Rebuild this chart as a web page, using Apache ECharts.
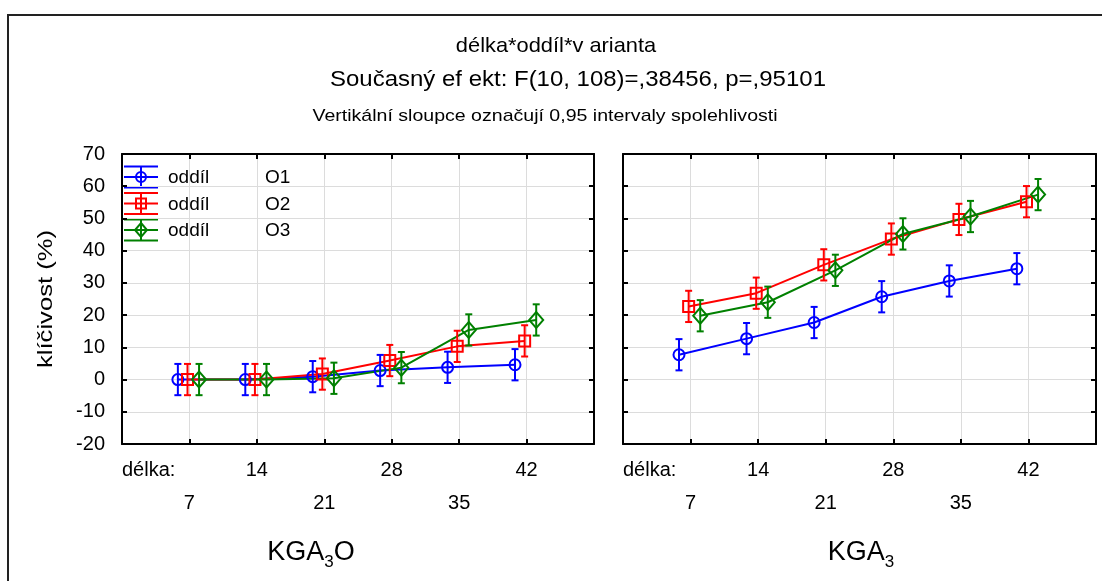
<!DOCTYPE html>
<html>
<head>
<meta charset="utf-8">
<script src="https://cdn.jsdelivr.net/npm/echarts@6/dist/echarts.min.js"></script>
<style>
    html, body { margin: 0; padding: 0; background: #fff; }
    #chart { width: 1102px; height: 581px; }
</style>
</head>
<body>
<div id="chart"></div>
<script>
// délka (days)
const delka = [7, 14, 21, 28, 35, 42];
const oddily = ["O1", "O2", "O3"];

// klíčivost (%) - varianta KGA3O
const kga3o_O1 = [0, 0, 0.9, 2.8, 3.8, 4.6];
const kga3o_O2 = [0, 0, 1.7, 5.9, 10.3, 12.0];
const kga3o_O3 = [0, 0, 0.4, 3.7, 15.4, 18.5];
// klíčivost (%) - varianta KGA3
const kga3_O1 = [7.7, 12.7, 17.7, 25.7, 30.6, 34.4];
const kga3_O2 = [22.7, 26.8, 35.6, 43.6, 49.7, 55.2];
const kga3_O3 = [19.8, 24.0, 33.9, 45.2, 50.6, 57.4];
// half width of the 0,95 interval
const ci95 = [4.85, 4.85, 4.85, 4.85, 4.85, 4.85];

const FONT = "'Liberation Sans', Arial, sans-serif";
const colors = ["#0000ff", "#ff0000", "#008000"];
const symbols = ["circle", "rect", "diamond"];
const symbolSizes = [11, 11, [14, 16]];
const dodge = [-1.2, -0.2, 1.0];

const panels = [
    [kga3o_O1, kga3o_O2, kga3o_O3],
    [kga3_O1, kga3_O2, kga3_O3]
];

const grids = [
    { left: 122, top: 154, width: 472, height: 290 },
    { left: 623, top: 154, width: 473, height: 290 }
];

const xLabel = v => {
    if (v === 0) return "délka:";
    if (v === 49) return "";
    return (v / 7) % 2 === 0 ? "" + v : " \n" + v;
};

let xAxes = [];
let yAxes = [];
grids.forEach((g, gi) => {
    xAxes.push({
        type: "value",
        gridIndex: gi,
        min: 0,
        max: 49,
        interval: 7,
        axisLine: { show: true, onZero: false, lineStyle: { color: "#000", width: 2 } },
        axisTick: { show: true, inside: true, length: 5, lineStyle: { color: "#000", width: 2 } },
        splitLine: { show: true, lineStyle: { color: "#dcdcdc", width: 1 } },
        axisLabel: {
            showMinLabel: true,
            showMaxLabel: true,
            hideOverlap: false,
            alignMinLabel: "left",
            color: "#000",
            fontFamily: FONT,
            fontSize: 20,
            lineHeight: 33,
            margin: 10,
            formatter: xLabel
        }
    });
    xAxes.push({
        type: "value",
        gridIndex: gi,
        position: "top",
        min: 0,
        max: 49,
        interval: 7,
        axisLine: { show: true, onZero: false, lineStyle: { color: "#000", width: 2 } },
        axisTick: { show: true, inside: true, length: 5, lineStyle: { color: "#000", width: 2 } },
        splitLine: { show: false },
        axisLabel: { show: false }
    });
    yAxes.push({
        type: "value",
        gridIndex: gi,
        min: -20,
        max: 70,
        interval: 10,
        axisLine: { show: true, onZero: false, lineStyle: { color: "#000", width: 2 } },
        axisTick: { show: true, inside: true, length: 5, lineStyle: { color: "#000", width: 2 } },
        splitLine: { show: true, lineStyle: { color: "#dcdcdc", width: 1 } },
        axisLabel: { show: gi === 0, color: "#000", fontFamily: FONT, fontSize: 20, margin: 17 }
    });
    yAxes.push({
        type: "value",
        gridIndex: gi,
        position: "right",
        min: -20,
        max: 70,
        interval: 10,
        axisLine: { show: true, onZero: false, lineStyle: { color: "#000", width: 2 } },
        axisTick: { show: true, inside: true, length: 5, lineStyle: { color: "#000", width: 2 } },
        splitLine: { show: false },
        axisLabel: { show: false }
    });
});

const errRenderer = color => (params, api) => {
    const x = api.value(0);
    const lo = api.coord([x, api.value(1)]);
    const hi = api.coord([x, api.value(2)]);
    const cap = 3.5;
    const st = { stroke: color, lineWidth: 2 };
    return {
        type: "group",
        children: [
            { type: "line", shape: { x1: lo[0], y1: lo[1], x2: hi[0], y2: hi[1] }, style: st },
            { type: "line", shape: { x1: lo[0] - cap, y1: lo[1], x2: lo[0] + cap, y2: lo[1] }, style: st },
            { type: "line", shape: { x1: hi[0] - cap, y1: hi[1], x2: hi[0] + cap, y2: hi[1] }, style: st }
        ]
    };
};

let series = [];
panels.forEach((panel, gi) => {
    panel.forEach((vals, s) => {
        series.push({
            name: oddily[s],
            type: "custom",
            xAxisIndex: gi * 2,
            yAxisIndex: gi * 2,
            renderItem: errRenderer(colors[s]),
            data: vals.map((v, i) => [delka[i] + dodge[s], v - ci95[i], v + ci95[i]]),
            z: 4,
            silent: true
        });
        series.push({
            name: oddily[s],
            type: "line",
            xAxisIndex: gi * 2,
            yAxisIndex: gi * 2,
            data: vals.map((v, i) => [delka[i] + dodge[s], v]),
            symbol: symbols[s],
            symbolSize: symbolSizes[s],
            showAllSymbol: true,
            lineStyle: { color: colors[s], width: 2 },
            itemStyle: { color: "rgba(0,0,0,0)", borderColor: colors[s], borderWidth: 2 },
            z: 3,
            silent: true
        });
    });
});

// legend drawn as graphic (error bar icon + marker)
let legendEls = [];
oddily.forEach((o, k) => {
    const yc = 177 + 26.5 * k;
    const st = { stroke: colors[k], lineWidth: 2, fill: null };
    legendEls.push({ type: "line", shape: { x1: 124, y1: yc - 10.5, x2: 158, y2: yc - 10.5 }, style: st });
    legendEls.push({ type: "line", shape: { x1: 124, y1: yc, x2: 158, y2: yc }, style: st });
    legendEls.push({ type: "line", shape: { x1: 124, y1: yc + 10.5, x2: 158, y2: yc + 10.5 }, style: st });
    legendEls.push({ type: "line", shape: { x1: 141, y1: yc - 10.5, x2: 141, y2: yc + 10.5 }, style: st });
    if (k === 0) legendEls.push({ type: "circle", shape: { cx: 141, cy: yc, r: 5 }, style: st });
    if (k === 1) legendEls.push({ type: "rect", shape: { x: 136, y: yc - 5, width: 10, height: 10 }, style: st });
    if (k === 2) legendEls.push({ type: "polygon", shape: { points: [[141, yc - 7], [147, yc], [141, yc + 7], [135, yc]] }, style: st });
    legendEls.push({ type: "text", x: 168, y: yc + 1, style: { text: "oddíl", font: "19px " + FONT, fill: "#000", textVerticalAlign: "middle" } });
    legendEls.push({ type: "text", x: 265, y: yc + 1, style: { text: o, font: "19px " + FONT, fill: "#000", textVerticalAlign: "middle" } });
});

const subRich = {
    n: { fontSize: 27, fontFamily: FONT, fill: "#000", lineHeight: 30 },
    s: { fontSize: 17, fontFamily: FONT, fill: "#000", lineHeight: 16, padding: [16, 0, 0, 0], verticalAlign: "top" }
};

const option = {
    backgroundColor: "#fff",
    animation: false,
    grid: grids.map(g => Object.assign({ show: false }, g)),
    xAxis: xAxes,
    yAxis: yAxes,
    series: series,
    graphic: [
        { type: "rect", shape: { x: 8, y: 15, width: 1110, height: 600 }, style: { fill: null, stroke: "#222", lineWidth: 2 } },
        { type: "text", x: 556, y: 46, scaleX: 1.04, style: { text: "délka*oddíl*v arianta", font: "21px " + FONT, fill: "#000", textAlign: "center", textVerticalAlign: "middle" } },
        { type: "text", x: 578, y: 80, scaleX: 1.09, style: { text: "Současný ef ekt: F(10, 108)=,38456, p=,95101", font: "22px " + FONT, fill: "#000", textAlign: "center", textVerticalAlign: "middle" } },
        { type: "text", x: 545, y: 116, scaleX: 1.15, style: { text: "Vertikální sloupce označují 0,95 intervaly spolehlivosti", font: "17px " + FONT, fill: "#000", textAlign: "center", textVerticalAlign: "middle" } },
        { type: "text", x: 46, y: 299, rotation: Math.PI / 2, scaleX: 1.22, style: { text: "klíčivost (%)", font: "21px " + FONT, fill: "#000", textAlign: "center", textVerticalAlign: "middle" } },
        { type: "text", x: 311, y: 553, style: { text: "{n|KGA}{s|3}{n|O}", textAlign: "center", textVerticalAlign: "middle", rich: subRich } },
        { type: "text", x: 861, y: 553, style: { text: "{n|KGA}{s|3}", textAlign: "center", textVerticalAlign: "middle", rich: subRich } }
    ].concat(legendEls)
};

const chart = echarts.init(document.getElementById("chart"));
chart.setOption(option);
</script>
</body>
</html>
